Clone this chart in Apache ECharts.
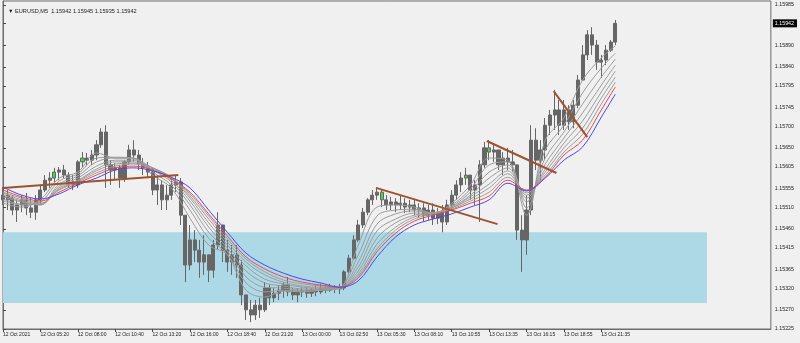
<!DOCTYPE html>
<html><head><meta charset="utf-8">
<script src="https://cdn.jsdelivr.net/npm/echarts@6/dist/echarts.min.js"></script>
<style>html,body{margin:0;padding:0;background:#f0f0f0}#c{width:800px;height:343px}</style>
</head><body><div id="c"></div><script>
// ---- data ----
const xLabels = ['12 Oct 2021','12 Oct 05:20','12 Oct 08:00','12 Oct 10:40','12 Oct 13:20','12 Oct 16:00','12 Oct 18:40','12 Oct 21:20','13 Oct 00:00','13 Oct 02:50','13 Oct 05:30','13 Oct 08:10','13 Oct 10:55','13 Oct 13:35','13 Oct 16:15','13 Oct 18:55','13 Oct 21:35'];
const xLabelSlots = [0,8,16,24,32,40,48,56,64,72,80,88,96,104,112,120,128];
const yTickValues = [1.15985,1.15942,1.15890,1.15840,1.15795,1.15745,1.15700,1.15650,1.15605,1.15555,1.15510,1.15460,1.15415,1.15365,1.15320,1.15270,1.15225];
const titleText = '\u25BC EURUSD,M5  1.15942 1.15945 1.15935 1.15942';
const lastPrice = 1.15942;

const open = [1.15539,1.15528,1.15532,1.15504,1.15516,1.15528,1.15509,1.15499,1.15528,1.15551,
1.15574,1.15579,1.15593,1.15598,1.15586,1.15570,1.15563,1.15617,1.15626,1.15621,
1.15633,1.15657,1.15687,1.15610,1.15598,1.15603,1.15579,1.15617,1.15645,1.15633,
1.15614,1.15603,1.15593,1.15551,1.15563,1.15528,1.15539,1.15563,1.15570,1.15492,
1.15375,1.15434,1.15410,1.15382,1.15399,1.15363,1.15422,1.15469,1.15410,1.15382,
1.15399,1.15375,1.15305,1.15270,1.15258,1.15281,1.15270,1.15321,1.15298,1.15309,
1.15316,1.15328,1.15312,1.15305,1.15312,1.15316,1.15309,1.15316,1.15312,1.15321,
1.15316,1.15323,1.15319,1.15321,1.15359,1.15391,1.15434,1.15469,1.15499,1.15528,
1.15539,1.15546,1.15528,1.15516,1.15523,1.15516,1.15520,1.15511,1.15516,1.15504,
1.15509,1.15492,1.15504,1.15485,1.15499,1.15476,1.15516,1.15539,1.15563,1.15579,
1.15586,1.15551,1.15563,1.15610,1.15650,1.15640,1.15645,1.15610,1.15626,1.15617,
1.15610,1.15457,1.15434,1.15504,1.15668,1.15621,1.15645,1.15703,1.15727,1.15739,
1.15703,1.15739,1.15711,1.15750,1.15809,1.15868,1.15915,1.15891,1.15851,1.15856,
1.15879,1.15898];
const close = [1.15528,1.15539,1.15504,1.15516,1.15528,1.15509,1.15499,1.15528,1.15551,1.15574,
1.15579,1.15593,1.15598,1.15586,1.15570,1.15563,1.15617,1.15626,1.15621,1.15633,
1.15657,1.15687,1.15610,1.15598,1.15603,1.15579,1.15617,1.15645,1.15633,1.15614,
1.15603,1.15593,1.15551,1.15563,1.15528,1.15539,1.15563,1.15570,1.15492,1.15375,
1.15434,1.15410,1.15382,1.15399,1.15363,1.15422,1.15469,1.15410,1.15382,1.15399,
1.15375,1.15305,1.15270,1.15258,1.15281,1.15270,1.15321,1.15298,1.15309,1.15316,
1.15328,1.15312,1.15305,1.15312,1.15316,1.15309,1.15316,1.15312,1.15321,1.15316,
1.15323,1.15319,1.15321,1.15359,1.15391,1.15434,1.15469,1.15499,1.15528,1.15539,
1.15546,1.15528,1.15516,1.15523,1.15516,1.15520,1.15511,1.15516,1.15504,1.15509,
1.15492,1.15504,1.15485,1.15499,1.15476,1.15516,1.15539,1.15563,1.15579,1.15586,
1.15551,1.15563,1.15610,1.15650,1.15640,1.15645,1.15610,1.15626,1.15617,1.15610,
1.15457,1.15434,1.15504,1.15668,1.15621,1.15645,1.15703,1.15727,1.15739,1.15703,
1.15739,1.15711,1.15750,1.15809,1.15868,1.15915,1.15891,1.15851,1.15856,1.15879,
1.15898,1.15942];
const low = [1.15516,1.15504,1.15492,1.15476,1.15499,1.15492,1.15485,1.15481,1.15516,1.15546,
1.15556,1.15570,1.15574,1.15579,1.15556,1.15551,1.15556,1.15603,1.15607,1.15610,
1.15621,1.15650,1.15556,1.15563,1.15574,1.15556,1.15570,1.15610,1.15617,1.15598,
1.15586,1.15579,1.15539,1.15516,1.15504,1.15504,1.15528,1.15546,1.15469,1.15335,
1.15363,1.15382,1.15345,1.15352,1.15335,1.15345,1.15410,1.15382,1.15359,1.15352,
1.15345,1.15281,1.15246,1.15241,1.15246,1.15251,1.15265,1.15281,1.15288,1.15293,
1.15298,1.15302,1.15293,1.15288,1.15300,1.15298,1.15300,1.15302,1.15307,1.15309,
1.15312,1.15309,1.15307,1.15316,1.15352,1.15387,1.15429,1.15462,1.15492,1.15516,
1.15528,1.15511,1.15504,1.15504,1.15499,1.15504,1.15497,1.15499,1.15492,1.15485,
1.15476,1.15481,1.15469,1.15471,1.15452,1.15469,1.15504,1.15528,1.15546,1.15563,
1.15528,1.15516,1.15476,1.15603,1.15621,1.15617,1.15598,1.15586,1.15598,1.15593,
1.15434,1.15359,1.15399,1.15492,1.15598,1.15574,1.15621,1.15680,1.15692,1.15680,
1.15692,1.15692,1.15696,1.15743,1.15809,1.15856,1.15868,1.15833,1.15814,1.15844,
1.15875,1.15891];
const high = [1.15558,1.15551,1.15539,1.15528,1.15539,1.15544,1.15532,1.15539,1.15563,1.15586,
1.15593,1.15603,1.15605,1.15610,1.15593,1.15586,1.15621,1.15640,1.15638,1.15645,
1.15668,1.15696,1.15703,1.15621,1.15614,1.15610,1.15621,1.15657,1.15668,1.15645,
1.15626,1.15617,1.15603,1.15586,1.15574,1.15563,1.15579,1.15586,1.15579,1.15492,
1.15469,1.15457,1.15434,1.15445,1.15399,1.15434,1.15499,1.15469,1.15434,1.15422,
1.15422,1.15387,1.15305,1.15293,1.15293,1.15298,1.15335,1.15328,1.15321,1.15328,
1.15335,1.15347,1.15321,1.15321,1.15323,1.15321,1.15321,1.15326,1.15331,1.15328,
1.15331,1.15328,1.15331,1.15363,1.15399,1.15445,1.15481,1.15509,1.15532,1.15551,
1.15558,1.15551,1.15539,1.15535,1.15532,1.15537,1.15532,1.15528,1.15528,1.15520,
1.15520,1.15516,1.15520,1.15509,1.15516,1.15528,1.15551,1.15574,1.15593,1.15603,
1.15586,1.15574,1.15621,1.15664,1.15668,1.15657,1.15645,1.15640,1.15650,1.15645,
1.15610,1.15492,1.15539,1.15703,1.15696,1.15668,1.15720,1.15739,1.15786,1.15762,
1.15762,1.15750,1.15762,1.15821,1.15891,1.15926,1.15933,1.15903,1.15868,1.15891,
1.15903,1.15950];
const greenSlots = [11,17,64,70,81,99,104];

const maSlots = [0,4,8,12,16,20,24,28,32,36,40,44,48,52,56,60,64,68,72,76,80,84,88,92,96,100,104,108,112,116,120,124,128,131];
const maGray1 = [1.15520,1.15511,1.15528,1.15579,1.15593,1.15638,1.15626,1.15626,1.15586,1.15556,1.15485,1.15422,1.15399,1.15316,1.15300,1.15314,1.15312,1.15316,1.15321,1.15422,1.15511,1.15516,1.15511,1.15495,1.15520,1.15563,1.15626,1.15621,1.15492,1.15668,1.15720,1.15809,1.15861,1.15889];
const maGray2 = [1.15525,1.15516,1.15523,1.15572,1.15589,1.15626,1.15628,1.15626,1.15593,1.15563,1.15504,1.15438,1.15401,1.15333,1.15312,1.15316,1.15314,1.15316,1.15321,1.15399,1.15490,1.15504,1.15506,1.15497,1.15516,1.15553,1.15610,1.15617,1.15509,1.15645,1.15703,1.15779,1.15837,1.15872];
const maGray3 = [1.15530,1.15518,1.15518,1.15565,1.15584,1.15617,1.15626,1.15624,1.15598,1.15570,1.15516,1.15452,1.15408,1.15347,1.15323,1.15321,1.15316,1.15319,1.15321,1.15382,1.15471,1.15495,1.15502,1.15497,1.15513,1.15546,1.15593,1.15610,1.15523,1.15626,1.15687,1.15753,1.15816,1.15858];
const maGray4 = [1.15535,1.15523,1.15516,1.15560,1.15579,1.15607,1.15621,1.15621,1.15603,1.15574,1.15525,1.15464,1.15415,1.15361,1.15333,1.15326,1.15319,1.15319,1.15321,1.15370,1.15455,1.15483,1.15497,1.15497,1.15511,1.15539,1.15579,1.15603,1.15532,1.15612,1.15673,1.15732,1.15797,1.15844];
const maGray5 = [1.15539,1.15525,1.15516,1.15556,1.15574,1.15600,1.15617,1.15617,1.15603,1.15579,1.15532,1.15474,1.15422,1.15373,1.15342,1.15331,1.15323,1.15321,1.15321,1.15361,1.15438,1.15474,1.15492,1.15497,1.15509,1.15535,1.15565,1.15596,1.15539,1.15600,1.15661,1.15713,1.15781,1.15830];
const maGray6 = [1.15544,1.15528,1.15518,1.15553,1.15572,1.15596,1.15612,1.15614,1.15603,1.15581,1.15537,1.15483,1.15429,1.15382,1.15352,1.15335,1.15326,1.15323,1.15323,1.15354,1.15424,1.15464,1.15488,1.15497,1.15509,1.15530,1.15556,1.15589,1.15544,1.15593,1.15650,1.15696,1.15767,1.15816];
const maGray7 = [1.15546,1.15532,1.15520,1.15551,1.15570,1.15591,1.15607,1.15612,1.15600,1.15581,1.15542,1.15490,1.15436,1.15389,1.15359,1.15340,1.15331,1.15326,1.15323,1.15349,1.15413,1.15457,1.15483,1.15495,1.15506,1.15525,1.15546,1.15581,1.15549,1.15586,1.15640,1.15682,1.15753,1.15804];
const maRed = [1.15551,1.15535,1.15525,1.15546,1.15567,1.15586,1.15603,1.15607,1.15598,1.15577,1.15546,1.15495,1.15443,1.15394,1.15366,1.15347,1.15335,1.15328,1.15323,1.15345,1.15406,1.15450,1.15478,1.15492,1.15504,1.15520,1.15537,1.15574,1.15551,1.15581,1.15633,1.15668,1.15739,1.15793];
const maBlue = [1.15558,1.15539,1.15530,1.15542,1.15563,1.15579,1.15598,1.15603,1.15596,1.15581,1.15556,1.15504,1.15452,1.15403,1.15375,1.15356,1.15342,1.15333,1.15323,1.15338,1.15394,1.15441,1.15469,1.15483,1.15495,1.15511,1.15528,1.15567,1.15549,1.15579,1.15621,1.15652,1.15722,1.15776];

const trendSlots = [[0,37.5],[79.8,105.8],[103.5,118.4],[117.8,125]];
const trendPrices = [[1.15556,1.15586],[1.15556,1.15471],[1.15666,1.15591],[1.15783,1.15675]];
const zoneSlots = [0,150.6];
const zonePrices = [1.15286,1.15452];

// ---- chart ----
const GRAY = '#666666', GREEN = '#4ad24a';
const candles = open.map((o,i)=>{
  const v=[i,o,close[i],low[i],high[i]];
  if (greenSlots.indexOf(i)>=0) return {value:v,itemStyle:{color:GREEN,color0:GREEN,borderColor:GRAY,borderColor0:GRAY}};
  return v;
});
const maLine = (arr,color,z)=>({type:'line',data:maSlots.map((s,i)=>[s,arr[i]]),showSymbol:false,smooth:0.35,
  lineStyle:{color:color,width:1},z:z,silent:true});
const grays=[maGray1,maGray2,maGray3,maGray4,maGray5,maGray6,maGray7];
const series=[
  {type:'line',data:[],z:1,silent:true,markArea:{silent:true,itemStyle:{color:'#add8e6',opacity:1},
    data:[[{coord:[zoneSlots[0],zonePrices[1]]},{coord:[zoneSlots[1],zonePrices[0]]}]]}},
  {type:'candlestick',data:candles,barWidth:3.6,z:3,
   itemStyle:{color:GRAY,color0:GRAY,borderColor:GRAY,borderColor0:GRAY,borderWidth:1},
   markLine:{silent:true,symbol:['none','none'],lineStyle:{color:'#9fb0c2',width:1,type:'solid'},
     label:{show:false},data:[{yAxis:lastPrice}]}}
];
grays.forEach(g=>series.push(maLine(g,'#9c9c9c',4)));
series.push(maLine(maRed,'#f04848',5));
series.push(maLine(maBlue,'#4848f0',5));
trendSlots.forEach((t,k)=>series.push({type:'line',data:[[t[0],trendPrices[k][0]],[t[1],trendPrices[k][1]]],
  showSymbol:false,lineStyle:{color:'#a0522d',width:2},z:6,silent:true}));

const chart=echarts.init(document.getElementById('c'),null,{renderer:'canvas'});
chart.setOption({
  animation:false,
  backgroundColor:'#f0f0f0',
  title:{text:titleText,left:3,top:3,textStyle:{fontSize:5.6,fontWeight:'normal',color:'#222',fontFamily:'Liberation Sans'}},
  grid:{left:2,right:28,top:1,bottom:14,show:true,borderColor:'#6d6d6d',borderWidth:1,backgroundColor:'#f0f0f0'},
  xAxis:{type:'value',min:0,max:164.27,splitLine:{show:false},
    axisLine:{show:true,onZero:false,lineStyle:{color:'#6d6d6d'}},
    axisTick:{show:true,length:3,customValues:xLabelSlots,lineStyle:{color:'#444'}},
    axisLabel:{customValues:xLabelSlots,formatter:v=>xLabels[xLabelSlots.indexOf(Math.round(v))]||'',
      align:'left',margin:3,fontSize:5,color:'#222',fontFamily:'Liberation Sans'}},
  yAxis:{type:'value',position:'right',min:1.15225,max:1.159944,splitLine:{show:false},scale:true,
    axisLine:{show:true,lineStyle:{color:'#6d6d6d'}},
    axisTick:{show:true,length:3,customValues:yTickValues,lineStyle:{color:'#444'}},
    axisLabel:{customValues:yTickValues,margin:2,fontSize:5.3,color:'#222',fontFamily:'Liberation Sans',
      formatter:v=>Math.abs(v-lastPrice)<1e-9?'{cur|'+v.toFixed(5)+'}':'{n|'+v.toFixed(5)+'}',
      rich:{cur:{backgroundColor:'#000',color:'#fff',fontSize:5.3,padding:[2,3,1,2],fontFamily:'Liberation Sans'},
            n:{fontSize:5.3,color:'#222',padding:[0,0,0,2],fontFamily:'Liberation Sans'}}}},
  series:series
});
</script></body></html>
